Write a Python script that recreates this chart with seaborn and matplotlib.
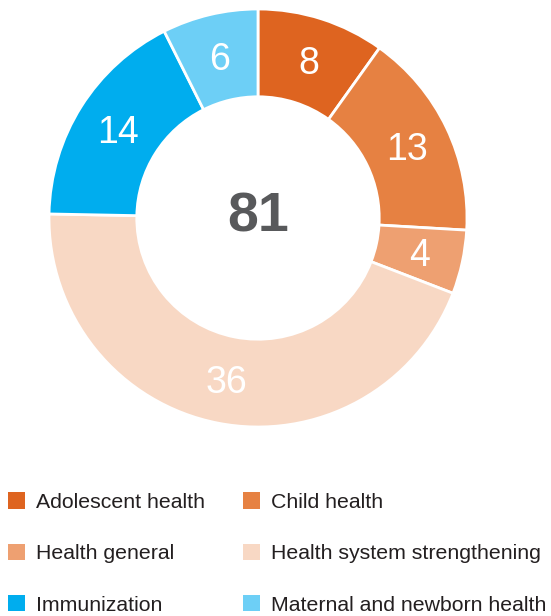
import matplotlib
matplotlib.use("Agg")
import matplotlib.pyplot as plt
import seaborn as sns
import numpy as np
from matplotlib.patches import Patch

categories = ["Adolescent health", "Child health", "Health general",
              "Health system strengthening", "Immunization", "Maternal and newborn health"]
values = [8, 13, 4, 36, 14, 6]
colors = ["#DE6420", "#E68142", "#EEA071", "#F8D8C4", "#00ADEE", "#6DCFF6"]
total_label = "81"

sns.set_theme(style="white")
plt.rcParams['font.family'] = ['Liberation Sans', 'DejaVu Sans']

W, H = 551, 616
fig = plt.figure(figsize=(W / 100, H / 100), dpi=100)
cx, cy, R = 258, 218, 209
ax = fig.add_axes([(cx - R) / W, (H - cy - R) / H, 2 * R / W, 2 * R / H])

wedges, _ = ax.pie(values, colors=colors, startangle=90, counterclock=False,
                   radius=1.0, wedgeprops=dict(width=0.42, edgecolor="white", linewidth=2))
cum = np.cumsum([0] + values)
tot = sum(values)
for i, v in enumerate(values):
    mid = 90 - 360 * (cum[i] + v / 2) / tot
    r = 0.79
    ax.text(r * np.cos(np.radians(mid)), r * np.sin(np.radians(mid)) - 0.015, str(v),
            ha="center", va="center", color="white", fontsize=27)
ax.text(0, 0, total_label, ha="center", va="center", color="#58595B",
        fontsize=40, fontweight="bold")
ax.set_xlim(-1, 1)
ax.set_ylim(-1, 1)
ax.set_aspect("equal")
ax.axis("off")

order = [0, 2, 4, 1, 3, 5]
handles = [Patch(facecolor=colors[i], edgecolor="none", label=categories[i]) for i in order]
fig.legend(handles=handles, ncol=2, loc="upper left", bbox_to_anchor=(2 / W, 1 - 486 / H),
           frameon=False, fontsize=15.3, handlelength=0.8, handleheight=0.8,
           handletextpad=0.5, columnspacing=1.8, labelspacing=1.5,
           labelcolor="#231F20", borderaxespad=0, borderpad=0.3)

fig.savefig("out.png", dpi=100)
